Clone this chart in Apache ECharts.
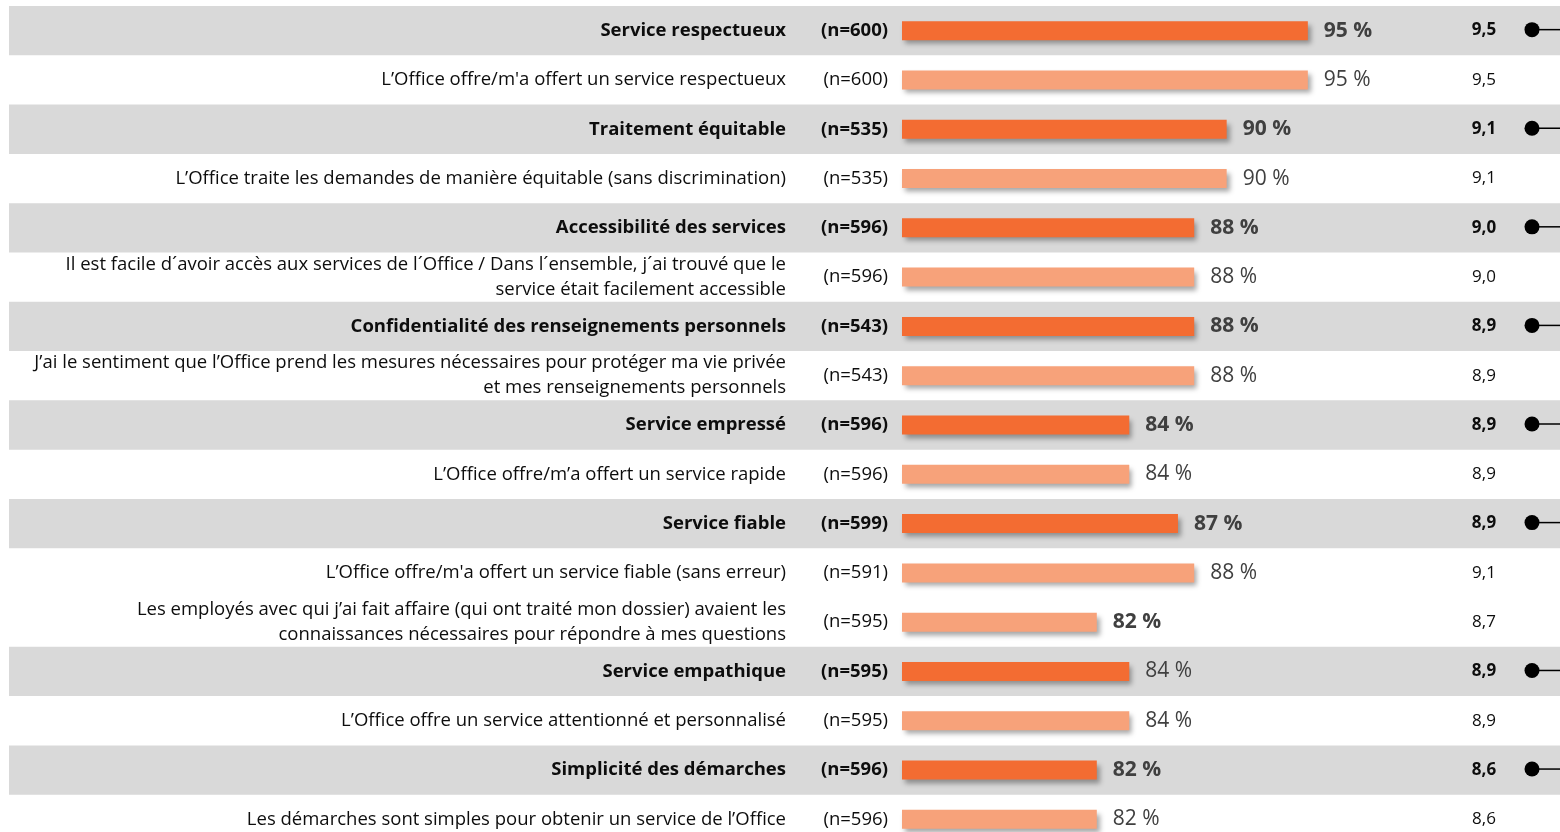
<!DOCTYPE html>
<html>
<head>
<meta charset="utf-8">
<script src="https://cdn.jsdelivr.net/npm/echarts@6/dist/echarts.min.js"></script>
<style>
  html, body { margin: 0; padding: 0; background: #fff; }
  #chart { width: 1560px; height: 832px; }
</style>
</head>
<body>
<div id="chart"></div>
<script>
// rows, top to bottom
var rowLabels = [
    "Service respectueux",
    "L’Office offre/m'a offert un service respectueux",
    "Traitement équitable",
    "L’Office traite les demandes de manière équitable (sans discrimination)",
    "Accessibilité des services",
    "Il est facile d´avoir accès aux services de l´Office / Dans l´ensemble, j´ai trouvé que le\nservice était facilement accessible",
    "Confidentialité des renseignements personnels",
    "J’ai le sentiment que l’Office prend les mesures nécessaires pour protéger ma vie privée\net mes renseignements personnels",
    "Service empressé",
    "L’Office offre/m’a offert un service rapide",
    "Service fiable",
    "L’Office offre/m'a offert un service fiable (sans erreur)",
    "Les employés avec qui j’ai fait affaire (qui ont traité mon dossier) avaient les\nconnaissances nécessaires pour répondre à mes questions",
    "Service empathique",
    "L’Office offre un service attentionné et personnalisé",
    "Simplicité des démarches",
    "Les démarches sont simples pour obtenir un service de l’Office"
];
var nLabels = ["(n=600)", "(n=600)", "(n=535)", "(n=535)", "(n=596)", "(n=596)", "(n=543)", "(n=543)",
    "(n=596)", "(n=596)", "(n=599)", "(n=591)", "(n=595)", "(n=595)", "(n=595)", "(n=596)", "(n=596)"];
var pctValues = [95, 95, 90, 90, 88, 88, 88, 88, 84, 84, 87, 88, 82, 84, 84, 82, 82];
var scores = ["9,5", "9,5", "9,1", "9,1", "9,0", "9,0", "8,9", "8,9", "8,9", "8,9", "8,9", "9,1", "8,7", "8,9", "8,9", "8,6", "8,6"];
var isHeader = [1, 0, 1, 0, 1, 0, 1, 0, 1, 0, 1, 0, 0, 1, 0, 1, 0];
var pctBold = [1, 0, 1, 0, 1, 0, 1, 0, 1, 0, 1, 0, 1, 0, 0, 1, 0];

var FONT = "'Open Sans'";
var DARK = "#F36C32", LIGHT = "#F7A27A", BAND = "#D9D9D9";
var gridTop = 6, gridH = 838;

var chart = echarts.init(document.getElementById("chart"));

function richStyles(size, lh) {
    return {
        b: { fontFamily: FONT, fontSize: size, fontWeight: "bold", color: "#0D0D0D", lineHeight: lh },
        r: { fontFamily: FONT, fontSize: size, fontWeight: "normal", color: "#0D0D0D", lineHeight: lh }
    };
}
function tag(i, text) {
    return (isHeader[i] ? "{b|" : "{r|") + text + "}";
}

var hideAxis = { axisLine: { show: false }, axisTick: { show: false }, splitLine: { show: false } };

var barData = pctValues.map(function (v, i) {
    return {
        value: v,
        itemStyle: { color: isHeader[i] ? DARK : LIGHT },
        label: { fontWeight: pctBold[i] ? "bold" : "normal" }
    };
});

chart.setOption({
    animation: false,
    grid: [
        { left: 902, top: gridTop, width: 487, height: gridH, outerBoundsMode: "none" },
        { left: 9, right: 0, top: gridTop, height: gridH, outerBoundsMode: "none" }
    ],
    xAxis: [
        Object.assign({ type: "value", min: 70, max: 100, gridIndex: 0, axisLabel: { show: false } }, hideAxis),
        Object.assign({ type: "value", min: 0, max: 1, gridIndex: 1, show: false }, hideAxis)
    ],
    yAxis: [
        Object.assign({
            type: "category", data: rowLabels, inverse: true, gridIndex: 0, position: "left",
            axisLabel: {
                margin: 14, formatter: function (v, i) { return tag(i, nLabels[i]); }, rich: richStyles(18.5, 24)
            }
        }, hideAxis),
        Object.assign({
            type: "category", data: rowLabels, inverse: true, gridIndex: 0, position: "left",
            axisLabel: {
                margin: 116, formatter: function (v, i) { return tag(i, v); }, rich: richStyles(18.5, 25)
            }
        }, hideAxis),
        Object.assign({
            type: "category", data: rowLabels, inverse: true, gridIndex: 0, position: "right",
            axisLabel: {
                margin: 95, align: "center", formatter: function (v, i) { return tag(i, scores[i]); }, rich: richStyles(17, 22)
            }
        }, hideAxis),
        Object.assign({ type: "category", data: rowLabels, inverse: true, gridIndex: 1, show: false }, hideAxis)
    ],
    series: [
        {
            type: "bar", xAxisIndex: 1, yAxisIndex: 3, z: 0, silent: true,
            barWidth: "100%",
            itemStyle: { color: BAND },
            data: isHeader.map(function (h) { return h ? 1 : 0; })
        },
        {
            type: "bar", xAxisIndex: 0, yAxisIndex: 0, z: 3,
            barWidth: 19,
            itemStyle: { shadowBlur: 5, shadowOffsetX: 3, shadowOffsetY: 4, shadowColor: "rgba(0,0,0,0.35)" },
            label: {
                show: true, position: "right", distance: 16, formatter: "{c} %",
                fontFamily: FONT, fontSize: 21, color: "#404040"
            },
            data: barData
        },
        {
            type: "custom", xAxisIndex: 0, yAxisIndex: 0, z: 4, silent: true,
            data: isHeader.map(function (h, i) { return h ? [70, i] : null; }).filter(function (d) { return d; }),
            renderItem: function (params, api) {
                var y = api.coord([70, api.value(1)])[1] - 1;
                var w = api.getWidth();
                return {
                    type: "group",
                    children: [
                        { type: "line", shape: { x1: w - 28, y1: y, x2: w, y2: y }, style: { stroke: "#000", lineWidth: 1.5 } },
                        { type: "circle", shape: { cx: w - 28, cy: y, r: 7.5 }, style: { fill: "#000" } }
                    ]
                };
            }
        }
    ]
});
</script>
</body>
</html>
